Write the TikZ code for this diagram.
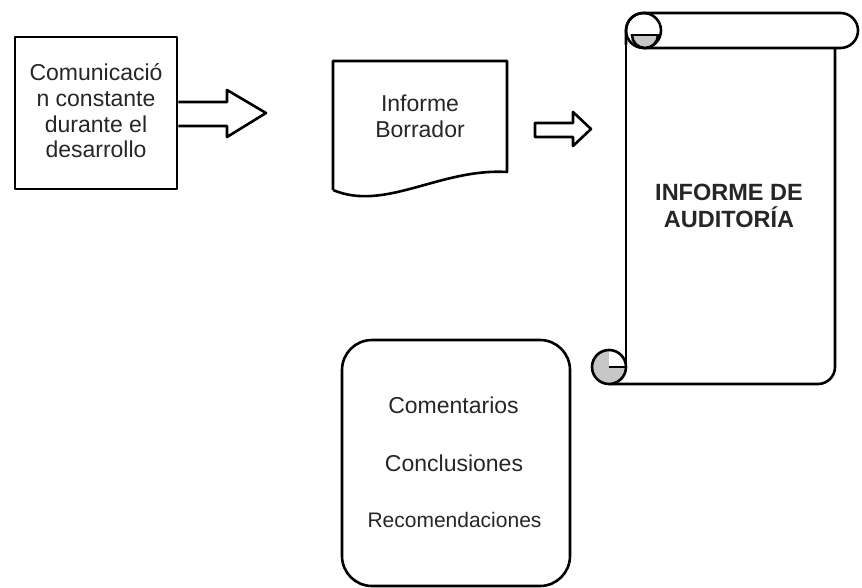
\documentclass[tikz,border=0pt]{standalone}
\usepackage{fontspec}
\setmainfont{Liberation Sans}
\begin{document}
\begin{tikzpicture}[x=1pt,y=-1pt,line join=round]
\tikzset{
  outline/.style={draw=black,line width=2.6pt},
  label/.style={inner sep=0pt,align=center,text=black!85,font=\fontsize{23}{25.7}\selectfont},
  curlfill/.style={fill=black!22},
}
\useasboundingbox (0,0) rectangle (862,588);

% first step: text box
\node[outline,minimum width=162pt,minimum height=152pt,inner sep=0pt] (comm) at (96,113) {};
\node[label] (commtext) at (96,111) {Comunicació\\n constante\\durante el\\desarrollo};

% block arrow leaving the text box
\draw[outline,fill=white] (comm.east |- 0,102) -- (227,102) -- (227,90) -- (266,113)
  -- (227,137) -- (227,126) -- (comm.east |- 0,126);

% draft report (document shape)
\draw[outline,fill=white] (333,190) -- (333,61) -- (507,61) -- (507,172)
  .. controls (440,168) and (385,212) .. (333,190);
\node[label] (draft) at (420,116) {Informe\\Borrador};

% small block arrow
\draw[outline,fill=white] (535,123) -- (573,123) -- (573,112) -- (591,129)
  -- (573,146) -- (573,137) -- (535,137) -- cycle;

% vertical scroll: body
\draw[outline,fill=white,rounded corners=17pt] (835,48) -- (835,384) -- (609,384);
\draw[outline] (626,30) -- (626,367);
% top roll
\draw[outline,fill=white,rounded corners=17.5pt] (643.5,48) -- (858,48) -- (858,13) -- (626,13) -- (626,45);
\draw[outline] (643.5,30.5) circle[radius=17.5];
\begin{scope}
  \clip (600,35) rectangle (700,60);
  \fill[curlfill] (645,35) circle[radius=13];
  \draw[outline] (645,35) circle[radius=13];
\end{scope}
\draw[outline] (632,35) -- (659,35);
\draw[outline] (643.5,48) -- (700,48);
% bottom curl
\fill[curlfill] (609,367) circle[radius=17];
\begin{scope}
  \clip (609,340) rectangle (640,367);
  \fill[white] (609,367) circle[radius=17];
\end{scope}
\draw[outline] (609,367) circle[radius=17];
\draw[outline] (609,367) -- (626,367);
\node[label,font=\bfseries\fontsize{23.5}{27}\selectfont] (report) at (729,206) {INFORME DE\\AUDITORÍA};

% contents box
\draw[outline,rounded corners=30pt] (342,340) rectangle (570,586);
\node[label] (coment) at (453.5,405) {Comentarios};
\node[label] (concl) at (454,463) {Conclusiones};
\node[label,font=\fontsize{21}{24}\selectfont] (recom) at (454.5,520) {Recomendaciones};
\end{tikzpicture}
\end{document}
